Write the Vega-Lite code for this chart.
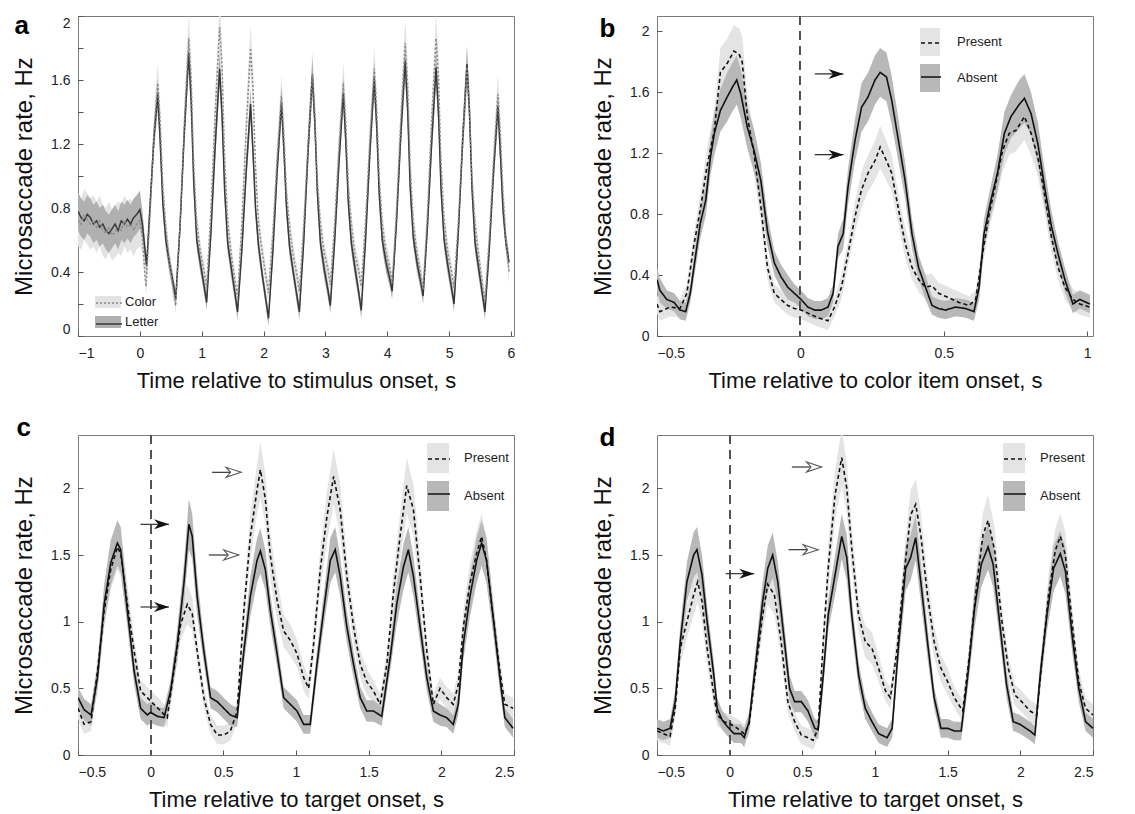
{
"$schema":"https://vega.github.io/schema/vega-lite/v6.json",
"padding":{"left":12,"top":12,"right":4,"bottom":0},
"columns":2,
"spacing":{"row":22,"column":75},
"resolve":{"scale":{"fill":"independent","stroke":"independent","strokeDash":"independent"}},
"datasets":{
"A":[
{"s":"Letter","t":-1,"y":0.78,"l":0.66,"h":0.9},{"s":"Letter","t":-0.95,"y":0.74,"l":0.62,"h":0.86},{"s":"Letter","t":-0.9,"y":0.72,"l":0.6,"h":0.84},{"s":"Letter","t":-0.85,"y":0.76,"l":0.64,"h":0.88},{"s":"Letter","t":-0.8,"y":0.74,"l":0.62,"h":0.86},{"s":"Letter","t":-0.75,"y":0.7,"l":0.58,"h":0.82},{"s":"Letter","t":-0.7,"y":0.72,"l":0.6,"h":0.84},{"s":"Letter","t":-0.65,"y":0.68,"l":0.56,"h":0.8},{"s":"Letter","t":-0.6,"y":0.7,"l":0.58,"h":0.82},{"s":"Letter","t":-0.55,"y":0.66,"l":0.54,"h":0.78},{"s":"Letter","t":-0.5,"y":0.64,"l":0.52,"h":0.76},{"s":"Letter","t":-0.45,"y":0.67,"l":0.55,"h":0.79},{"s":"Letter","t":-0.4,"y":0.7,"l":0.58,"h":0.82},{"s":"Letter","t":-0.35,"y":0.66,"l":0.54,"h":0.78},{"s":"Letter","t":-0.3,"y":0.72,"l":0.6,"h":0.84},{"s":"Letter","t":-0.25,"y":0.7,"l":0.58,"h":0.82},{"s":"Letter","t":-0.2,"y":0.73,"l":0.61,"h":0.85},{"s":"Letter","t":-0.15,"y":0.7,"l":0.58,"h":0.82},{"s":"Letter","t":-0.1,"y":0.74,"l":0.62,"h":0.86},{"s":"Letter","t":-0.05,"y":0.76,"l":0.64,"h":0.88},{"s":"Letter","t":0,"y":0.79,"l":0.67,"h":0.91},{"s":"Letter","t":0.04,"y":0.7,"l":0.61,"h":0.79},{"s":"Letter","t":0.08,"y":0.55,"l":0.48,"h":0.62},{"s":"Letter","t":0.11,"y":0.44,"l":0.38,"h":0.5},
{"s":"Letter","t":0.17,"y":0.85,"l":0.78,"h":0.92},{"s":"Letter","t":0.23,"y":1.25,"l":1.16,"h":1.34},{"s":"Letter","t":0.29,"y":1.51,"l":1.41,"h":1.61},{"s":"Letter","t":0.33,"y":1.21,"l":1.12,"h":1.3},{"s":"Letter","t":0.37,"y":0.84,"l":0.77,"h":0.91},{"s":"Letter","t":0.42,"y":0.6,"l":0.54,"h":0.66},{"s":"Letter","t":0.48,"y":0.45,"l":0.39,"h":0.51},{"s":"Letter","t":0.54,"y":0.33,"l":0.28,"h":0.38},{"s":"Letter","t":0.58,"y":0.23,"l":0.18,"h":0.28},
{"s":"Letter","t":0.65,"y":0.69,"l":0.62,"h":0.76},{"s":"Letter","t":0.72,"y":1.28,"l":1.19,"h":1.37},{"s":"Letter","t":0.79,"y":1.77,"l":1.66,"h":1.88},{"s":"Letter","t":0.83,"y":1.47,"l":1.37,"h":1.57},{"s":"Letter","t":0.87,"y":0.97,"l":0.89,"h":1.05},{"s":"Letter","t":0.92,"y":0.6,"l":0.54,"h":0.66},{"s":"Letter","t":0.98,"y":0.45,"l":0.39,"h":0.51},{"s":"Letter","t":1.04,"y":0.31,"l":0.26,"h":0.36},{"s":"Letter","t":1.08,"y":0.21,"l":0.16,"h":0.26},
{"s":"Letter","t":1.15,"y":0.65,"l":0.58,"h":0.72},{"s":"Letter","t":1.22,"y":1.2,"l":1.11,"h":1.29},{"s":"Letter","t":1.29,"y":1.67,"l":1.56,"h":1.78},{"s":"Letter","t":1.33,"y":1.37,"l":1.28,"h":1.46},{"s":"Letter","t":1.37,"y":0.92,"l":0.84,"h":1},{"s":"Letter","t":1.42,"y":0.58,"l":0.52,"h":0.64},{"s":"Letter","t":1.48,"y":0.42,"l":0.36,"h":0.48},{"s":"Letter","t":1.54,"y":0.26,"l":0.21,"h":0.31},{"s":"Letter","t":1.58,"y":0.15,"l":0.1,"h":0.2},
{"s":"Letter","t":1.65,"y":0.54,"l":0.48,"h":0.6},{"s":"Letter","t":1.72,"y":1.03,"l":0.95,"h":1.11},{"s":"Letter","t":1.79,"y":1.45,"l":1.35,"h":1.55},{"s":"Letter","t":1.83,"y":1.15,"l":1.06,"h":1.24},{"s":"Letter","t":1.87,"y":0.8,"l":0.73,"h":0.87},{"s":"Letter","t":1.92,"y":0.56,"l":0.5,"h":0.62},{"s":"Letter","t":1.98,"y":0.38,"l":0.33,"h":0.43},{"s":"Letter","t":2.04,"y":0.22,"l":0.17,"h":0.27},{"s":"Letter","t":2.08,"y":0.11,"l":0.06,"h":0.16},
{"s":"Letter","t":2.15,"y":0.52,"l":0.46,"h":0.58},{"s":"Letter","t":2.22,"y":1.03,"l":0.95,"h":1.11},{"s":"Letter","t":2.29,"y":1.46,"l":1.36,"h":1.56},{"s":"Letter","t":2.33,"y":1.16,"l":1.07,"h":1.25},{"s":"Letter","t":2.37,"y":0.81,"l":0.74,"h":0.88},{"s":"Letter","t":2.42,"y":0.56,"l":0.5,"h":0.62},{"s":"Letter","t":2.48,"y":0.4,"l":0.35,"h":0.45},{"s":"Letter","t":2.54,"y":0.25,"l":0.2,"h":0.3},{"s":"Letter","t":2.58,"y":0.15,"l":0.1,"h":0.2},
{"s":"Letter","t":2.65,"y":0.59,"l":0.53,"h":0.65},{"s":"Letter","t":2.72,"y":1.16,"l":1.07,"h":1.25},{"s":"Letter","t":2.79,"y":1.63,"l":1.52,"h":1.74},{"s":"Letter","t":2.83,"y":1.33,"l":1.24,"h":1.42},{"s":"Letter","t":2.87,"y":0.9,"l":0.82,"h":0.98},{"s":"Letter","t":2.92,"y":0.58,"l":0.52,"h":0.64},{"s":"Letter","t":2.98,"y":0.42,"l":0.36,"h":0.48},{"s":"Letter","t":3.04,"y":0.29,"l":0.24,"h":0.34},{"s":"Letter","t":3.08,"y":0.19,"l":0.14,"h":0.24},
{"s":"Letter","t":3.15,"y":0.59,"l":0.53,"h":0.65},{"s":"Letter","t":3.22,"y":1.09,"l":1,"h":1.18},{"s":"Letter","t":3.29,"y":1.52,"l":1.42,"h":1.62},{"s":"Letter","t":3.33,"y":1.22,"l":1.13,"h":1.31},{"s":"Letter","t":3.37,"y":0.84,"l":0.77,"h":0.91},{"s":"Letter","t":3.42,"y":0.58,"l":0.52,"h":0.64},{"s":"Letter","t":3.48,"y":0.42,"l":0.36,"h":0.48},{"s":"Letter","t":3.54,"y":0.27,"l":0.22,"h":0.32},{"s":"Letter","t":3.58,"y":0.16,"l":0.11,"h":0.21},
{"s":"Letter","t":3.65,"y":0.6,"l":0.54,"h":0.66},{"s":"Letter","t":3.72,"y":1.15,"l":1.06,"h":1.24},{"s":"Letter","t":3.79,"y":1.61,"l":1.5,"h":1.72},{"s":"Letter","t":3.83,"y":1.31,"l":1.22,"h":1.4},{"s":"Letter","t":3.87,"y":0.89,"l":0.81,"h":0.97},{"s":"Letter","t":3.92,"y":0.6,"l":0.54,"h":0.66},{"s":"Letter","t":3.98,"y":0.46,"l":0.4,"h":0.52},{"s":"Letter","t":4.04,"y":0.36,"l":0.31,"h":0.41},{"s":"Letter","t":4.08,"y":0.28,"l":0.23,"h":0.33},
{"s":"Letter","t":4.15,"y":0.71,"l":0.64,"h":0.78},{"s":"Letter","t":4.22,"y":1.26,"l":1.17,"h":1.35},{"s":"Letter","t":4.29,"y":1.72,"l":1.61,"h":1.83},{"s":"Letter","t":4.33,"y":1.42,"l":1.32,"h":1.52},{"s":"Letter","t":4.37,"y":0.94,"l":0.86,"h":1.02},{"s":"Letter","t":4.42,"y":0.62,"l":0.56,"h":0.68},{"s":"Letter","t":4.48,"y":0.46,"l":0.4,"h":0.52},{"s":"Letter","t":4.54,"y":0.34,"l":0.29,"h":0.39},{"s":"Letter","t":4.58,"y":0.25,"l":0.2,"h":0.3},
{"s":"Letter","t":4.65,"y":0.68,"l":0.61,"h":0.75},{"s":"Letter","t":4.72,"y":1.22,"l":1.13,"h":1.31},{"s":"Letter","t":4.79,"y":1.68,"l":1.57,"h":1.79},{"s":"Letter","t":4.83,"y":1.38,"l":1.29,"h":1.47},{"s":"Letter","t":4.87,"y":0.92,"l":0.84,"h":1},{"s":"Letter","t":4.92,"y":0.6,"l":0.54,"h":0.66},{"s":"Letter","t":4.98,"y":0.44,"l":0.38,"h":0.5},{"s":"Letter","t":5.04,"y":0.3,"l":0.25,"h":0.35},{"s":"Letter","t":5.08,"y":0.2,"l":0.15,"h":0.25},
{"s":"Letter","t":5.15,"y":0.65,"l":0.58,"h":0.72},{"s":"Letter","t":5.22,"y":1.22,"l":1.13,"h":1.31},{"s":"Letter","t":5.29,"y":1.7,"l":1.59,"h":1.81},{"s":"Letter","t":5.33,"y":1.4,"l":1.31,"h":1.49},{"s":"Letter","t":5.37,"y":0.93,"l":0.85,"h":1.01},{"s":"Letter","t":5.42,"y":0.58,"l":0.52,"h":0.64},{"s":"Letter","t":5.48,"y":0.42,"l":0.36,"h":0.48},{"s":"Letter","t":5.54,"y":0.26,"l":0.21,"h":0.31},{"s":"Letter","t":5.58,"y":0.15,"l":0.1,"h":0.2},
{"s":"Letter","t":5.65,"y":0.54,"l":0.48,"h":0.6},{"s":"Letter","t":5.72,"y":1.03,"l":0.95,"h":1.11},{"s":"Letter","t":5.79,"y":1.44,"l":1.34,"h":1.54},{"s":"Letter","t":5.83,"y":1.14,"l":1.05,"h":1.23},{"s":"Letter","t":5.87,"y":0.8,"l":0.73,"h":0.87},{"s":"Letter","t":5.92,"y":0.58,"l":0.52,"h":0.64},{"s":"Letter","t":5.97,"y":0.46,"l":0.4,"h":0.52},
{"s":"Color","t":-1,"y":0.72,"l":0.56,"h":0.88},{"s":"Color","t":-0.95,"y":0.7,"l":0.54,"h":0.86},{"s":"Color","t":-0.9,"y":0.76,"l":0.6,"h":0.92},{"s":"Color","t":-0.85,"y":0.73,"l":0.57,"h":0.89},{"s":"Color","t":-0.8,"y":0.7,"l":0.54,"h":0.86},{"s":"Color","t":-0.75,"y":0.72,"l":0.56,"h":0.88},{"s":"Color","t":-0.7,"y":0.68,"l":0.52,"h":0.84},{"s":"Color","t":-0.65,"y":0.72,"l":0.56,"h":0.88},{"s":"Color","t":-0.6,"y":0.66,"l":0.5,"h":0.82},{"s":"Color","t":-0.55,"y":0.64,"l":0.48,"h":0.8},{"s":"Color","t":-0.5,"y":0.68,"l":0.52,"h":0.84},{"s":"Color","t":-0.45,"y":0.63,"l":0.47,"h":0.79},{"s":"Color","t":-0.4,"y":0.65,"l":0.49,"h":0.81},{"s":"Color","t":-0.35,"y":0.68,"l":0.52,"h":0.84},{"s":"Color","t":-0.3,"y":0.66,"l":0.5,"h":0.82},{"s":"Color","t":-0.25,"y":0.72,"l":0.56,"h":0.88},{"s":"Color","t":-0.2,"y":0.68,"l":0.52,"h":0.84},{"s":"Color","t":-0.15,"y":0.7,"l":0.54,"h":0.86},{"s":"Color","t":-0.1,"y":0.66,"l":0.5,"h":0.82},{"s":"Color","t":-0.05,"y":0.7,"l":0.54,"h":0.86},{"s":"Color","t":0,"y":0.72,"l":0.56,"h":0.88},{"s":"Color","t":0.04,"y":0.62,"l":0.52,"h":0.72},{"s":"Color","t":0.08,"y":0.4,"l":0.33,"h":0.47},{"s":"Color","t":0.1,"y":0.31,"l":0.25,"h":0.37},
{"s":"Color","t":0.17,"y":0.8,"l":0.71,"h":0.89},{"s":"Color","t":0.23,"y":1.28,"l":1.16,"h":1.4},{"s":"Color","t":0.29,"y":1.58,"l":1.45,"h":1.71},{"s":"Color","t":0.33,"y":1.33,"l":1.21,"h":1.45},{"s":"Color","t":0.37,"y":0.94,"l":0.84,"h":1.04},{"s":"Color","t":0.42,"y":0.68,"l":0.6,"h":0.76},{"s":"Color","t":0.48,"y":0.46,"l":0.39,"h":0.53},{"s":"Color","t":0.54,"y":0.29,"l":0.23,"h":0.35},{"s":"Color","t":0.58,"y":0.19,"l":0.14,"h":0.24},
{"s":"Color","t":0.65,"y":0.69,"l":0.61,"h":0.77},{"s":"Color","t":0.72,"y":1.33,"l":1.21,"h":1.45},{"s":"Color","t":0.79,"y":1.86,"l":1.71,"h":2.01},{"s":"Color","t":0.83,"y":1.61,"l":1.47,"h":1.75},{"s":"Color","t":0.87,"y":1.08,"l":0.98,"h":1.18},{"s":"Color","t":0.92,"y":0.7,"l":0.62,"h":0.78},{"s":"Color","t":0.98,"y":0.52,"l":0.45,"h":0.59},{"s":"Color","t":1.04,"y":0.4,"l":0.34,"h":0.46},{"s":"Color","t":1.08,"y":0.3,"l":0.24,"h":0.36},
{"s":"Color","t":1.15,"y":0.79,"l":0.7,"h":0.88},{"s":"Color","t":1.22,"y":1.41,"l":1.29,"h":1.53},{"s":"Color","t":1.29,"y":1.93,"l":1.77,"h":2.09},{"s":"Color","t":1.33,"y":1.68,"l":1.54,"h":1.82},{"s":"Color","t":1.37,"y":1.12,"l":1.01,"h":1.23},{"s":"Color","t":1.42,"y":0.72,"l":0.64,"h":0.8},{"s":"Color","t":1.48,"y":0.5,"l":0.43,"h":0.57},{"s":"Color","t":1.54,"y":0.34,"l":0.28,"h":0.4},{"s":"Color","t":1.58,"y":0.24,"l":0.19,"h":0.29},
{"s":"Color","t":1.65,"y":0.71,"l":0.63,"h":0.79},{"s":"Color","t":1.72,"y":1.3,"l":1.18,"h":1.42},{"s":"Color","t":1.79,"y":1.8,"l":1.65,"h":1.95},{"s":"Color","t":1.83,"y":1.55,"l":1.42,"h":1.68},{"s":"Color","t":1.87,"y":1.05,"l":0.95,"h":1.15},{"s":"Color","t":1.92,"y":0.7,"l":0.62,"h":0.78},{"s":"Color","t":1.98,"y":0.52,"l":0.45,"h":0.59},{"s":"Color","t":2.04,"y":0.37,"l":0.31,"h":0.43},{"s":"Color","t":2.08,"y":0.27,"l":0.21,"h":0.33},
{"s":"Color","t":2.15,"y":0.64,"l":0.56,"h":0.72},{"s":"Color","t":2.22,"y":1.11,"l":1,"h":1.22},{"s":"Color","t":2.29,"y":1.5,"l":1.37,"h":1.63},{"s":"Color","t":2.33,"y":1.25,"l":1.13,"h":1.37},{"s":"Color","t":2.37,"y":0.9,"l":0.81,"h":0.99},{"s":"Color","t":2.42,"y":0.68,"l":0.6,"h":0.76},{"s":"Color","t":2.48,"y":0.5,"l":0.43,"h":0.57},{"s":"Color","t":2.54,"y":0.38,"l":0.32,"h":0.44},{"s":"Color","t":2.58,"y":0.28,"l":0.22,"h":0.34},
{"s":"Color","t":2.65,"y":0.69,"l":0.61,"h":0.77},{"s":"Color","t":2.72,"y":1.2,"l":1.09,"h":1.31},{"s":"Color","t":2.79,"y":1.64,"l":1.5,"h":1.78},{"s":"Color","t":2.83,"y":1.39,"l":1.27,"h":1.51},{"s":"Color","t":2.87,"y":0.97,"l":0.87,"h":1.07},{"s":"Color","t":2.92,"y":0.7,"l":0.62,"h":0.78},{"s":"Color","t":2.98,"y":0.52,"l":0.45,"h":0.59},{"s":"Color","t":3.04,"y":0.42,"l":0.36,"h":0.48},{"s":"Color","t":3.08,"y":0.32,"l":0.26,"h":0.38},
{"s":"Color","t":3.15,"y":0.7,"l":0.62,"h":0.78},{"s":"Color","t":3.22,"y":1.18,"l":1.07,"h":1.29},{"s":"Color","t":3.29,"y":1.58,"l":1.45,"h":1.71},{"s":"Color","t":3.33,"y":1.33,"l":1.21,"h":1.45},{"s":"Color","t":3.37,"y":0.94,"l":0.84,"h":1.04},{"s":"Color","t":3.42,"y":0.7,"l":0.62,"h":0.78},{"s":"Color","t":3.48,"y":0.5,"l":0.43,"h":0.57},{"s":"Color","t":3.54,"y":0.41,"l":0.35,"h":0.47},{"s":"Color","t":3.58,"y":0.31,"l":0.25,"h":0.37},
{"s":"Color","t":3.65,"y":0.72,"l":0.64,"h":0.8},{"s":"Color","t":3.72,"y":1.23,"l":1.12,"h":1.34},{"s":"Color","t":3.79,"y":1.67,"l":1.53,"h":1.81},{"s":"Color","t":3.83,"y":1.42,"l":1.3,"h":1.54},{"s":"Color","t":3.87,"y":0.99,"l":0.89,"h":1.09},{"s":"Color","t":3.92,"y":0.7,"l":0.62,"h":0.78},{"s":"Color","t":3.98,"y":0.52,"l":0.45,"h":0.59},{"s":"Color","t":4.04,"y":0.43,"l":0.37,"h":0.49},{"s":"Color","t":4.08,"y":0.33,"l":0.27,"h":0.39},
{"s":"Color","t":4.15,"y":0.78,"l":0.69,"h":0.87},{"s":"Color","t":4.22,"y":1.35,"l":1.23,"h":1.47},{"s":"Color","t":4.29,"y":1.83,"l":1.68,"h":1.98},{"s":"Color","t":4.33,"y":1.58,"l":1.44,"h":1.72},{"s":"Color","t":4.37,"y":1.07,"l":0.97,"h":1.17},{"s":"Color","t":4.42,"y":0.72,"l":0.64,"h":0.8},{"s":"Color","t":4.48,"y":0.52,"l":0.45,"h":0.59},{"s":"Color","t":4.54,"y":0.39,"l":0.33,"h":0.45},{"s":"Color","t":4.58,"y":0.29,"l":0.23,"h":0.35},
{"s":"Color","t":4.65,"y":0.76,"l":0.68,"h":0.84},{"s":"Color","t":4.72,"y":1.36,"l":1.24,"h":1.48},{"s":"Color","t":4.79,"y":1.86,"l":1.71,"h":2.01},{"s":"Color","t":4.83,"y":1.61,"l":1.47,"h":1.75},{"s":"Color","t":4.87,"y":1.08,"l":0.98,"h":1.18},{"s":"Color","t":4.92,"y":0.72,"l":0.64,"h":0.8},{"s":"Color","t":4.98,"y":0.52,"l":0.45,"h":0.59},{"s":"Color","t":5.04,"y":0.4,"l":0.34,"h":0.46},{"s":"Color","t":5.08,"y":0.3,"l":0.24,"h":0.36},
{"s":"Color","t":5.15,"y":0.71,"l":0.63,"h":0.79},{"s":"Color","t":5.22,"y":1.24,"l":1.12,"h":1.36},{"s":"Color","t":5.29,"y":1.68,"l":1.54,"h":1.82},{"s":"Color","t":5.33,"y":1.43,"l":1.31,"h":1.55},{"s":"Color","t":5.37,"y":0.99,"l":0.89,"h":1.09},{"s":"Color","t":5.42,"y":0.7,"l":0.62,"h":0.78},{"s":"Color","t":5.48,"y":0.5,"l":0.43,"h":0.57},{"s":"Color","t":5.54,"y":0.32,"l":0.26,"h":0.38},{"s":"Color","t":5.58,"y":0.22,"l":0.17,"h":0.27},
{"s":"Color","t":5.65,"y":0.61,"l":0.53,"h":0.69},{"s":"Color","t":5.72,"y":1.1,"l":0.99,"h":1.21},{"s":"Color","t":5.79,"y":1.51,"l":1.38,"h":1.64},{"s":"Color","t":5.83,"y":1.26,"l":1.14,"h":1.38},{"s":"Color","t":5.87,"y":0.91,"l":0.82,"h":1},{"s":"Color","t":5.92,"y":0.6,"l":0.52,"h":0.68},{"s":"Color","t":5.97,"y":0.4,"l":0.33,"h":0.47}
],
"B":[
{"s":"Absent","t":-0.5,"y":0.37,"l":0.29,"h":0.45},{"s":"Absent","t":-0.49,"y":0.3,"l":0.22,"h":0.38},{"s":"Absent","t":-0.466,"y":0.24,"l":0.18,"h":0.3},{"s":"Absent","t":-0.44,"y":0.22,"l":0.16,"h":0.28},{"s":"Absent","t":-0.42,"y":0.17,"l":0.11,"h":0.23},{"s":"Absent","t":-0.4,"y":0.16,"l":0.1,"h":0.22},{"s":"Absent","t":-0.384,"y":0.28,"l":0.22,"h":0.34},{"s":"Absent","t":-0.366,"y":0.52,"l":0.44,"h":0.6},{"s":"Absent","t":-0.349,"y":0.74,"l":0.64,"h":0.84},{"s":"Absent","t":-0.33,"y":0.89,"l":0.79,"h":0.99},{"s":"Absent","t":-0.314,"y":1.17,"l":1.05,"h":1.29},{"s":"Absent","t":-0.3,"y":1.33,"l":1.19,"h":1.47},{"s":"Absent","t":-0.279,"y":1.48,"l":1.34,"h":1.62},{"s":"Absent","t":-0.255,"y":1.57,"l":1.41,"h":1.73},{"s":"Absent","t":-0.238,"y":1.63,"l":1.47,"h":1.79},{"s":"Absent","t":-0.222,"y":1.68,"l":1.52,"h":1.84},{"s":"Absent","t":-0.208,"y":1.59,"l":1.43,"h":1.75},{"s":"Absent","t":-0.185,"y":1.37,"l":1.23,"h":1.51},{"s":"Absent","t":-0.162,"y":1.22,"l":1.08,"h":1.36},{"s":"Absent","t":-0.138,"y":1.02,"l":0.9,"h":1.14},{"s":"Absent","t":-0.115,"y":0.69,"l":0.59,"h":0.79},{"s":"Absent","t":-0.091,"y":0.48,"l":0.4,"h":0.56},{"s":"Absent","t":-0.068,"y":0.39,"l":0.31,"h":0.47},{"s":"Absent","t":-0.044,"y":0.32,"l":0.24,"h":0.4},{"s":"Absent","t":-0.021,"y":0.28,"l":0.22,"h":0.34},{"s":"Absent","t":0.002,"y":0.24,"l":0.18,"h":0.3},{"s":"Absent","t":0.026,"y":0.19,"l":0.13,"h":0.25},{"s":"Absent","t":0.05,"y":0.17,"l":0.11,"h":0.23},{"s":"Absent","t":0.073,"y":0.17,"l":0.11,"h":0.23},{"s":"Absent","t":0.096,"y":0.19,"l":0.13,"h":0.25},{"s":"Absent","t":0.114,"y":0.28,"l":0.22,"h":0.34},{"s":"Absent","t":0.131,"y":0.59,"l":0.51,"h":0.67},{"s":"Absent","t":0.149,"y":0.67,"l":0.57,"h":0.77},{"s":"Absent","t":0.166,"y":0.98,"l":0.86,"h":1.1},{"s":"Absent","t":0.19,"y":1.28,"l":1.14,"h":1.42},{"s":"Absent","t":0.213,"y":1.5,"l":1.34,"h":1.66},{"s":"Absent","t":0.236,"y":1.57,"l":1.41,"h":1.73},{"s":"Absent","t":0.26,"y":1.68,"l":1.52,"h":1.84},{"s":"Absent","t":0.278,"y":1.73,"l":1.57,"h":1.89},{"s":"Absent","t":0.3,"y":1.7,"l":1.54,"h":1.86},{"s":"Absent","t":0.318,"y":1.55,"l":1.39,"h":1.71},{"s":"Absent","t":0.342,"y":1.28,"l":1.14,"h":1.42},{"s":"Absent","t":0.365,"y":1.02,"l":0.9,"h":1.14},{"s":"Absent","t":0.389,"y":0.67,"l":0.57,"h":0.77},{"s":"Absent","t":0.412,"y":0.45,"l":0.37,"h":0.53},{"s":"Absent","t":0.436,"y":0.32,"l":0.24,"h":0.4},{"s":"Absent","t":0.459,"y":0.2,"l":0.14,"h":0.26},{"s":"Absent","t":0.482,"y":0.18,"l":0.12,"h":0.24},{"s":"Absent","t":0.506,"y":0.17,"l":0.11,"h":0.23},{"s":"Absent","t":0.541,"y":0.19,"l":0.13,"h":0.25},{"s":"Absent","t":0.576,"y":0.18,"l":0.12,"h":0.24},{"s":"Absent","t":0.605,"y":0.16,"l":0.1,"h":0.22},{"s":"Absent","t":0.623,"y":0.32,"l":0.24,"h":0.4},{"s":"Absent","t":0.64,"y":0.67,"l":0.57,"h":0.77},{"s":"Absent","t":0.664,"y":0.89,"l":0.79,"h":0.99},{"s":"Absent","t":0.687,"y":1.07,"l":0.95,"h":1.19},{"s":"Absent","t":0.711,"y":1.33,"l":1.19,"h":1.47},{"s":"Absent","t":0.734,"y":1.44,"l":1.3,"h":1.58},{"s":"Absent","t":0.763,"y":1.52,"l":1.36,"h":1.68},{"s":"Absent","t":0.781,"y":1.56,"l":1.4,"h":1.72},{"s":"Absent","t":0.804,"y":1.46,"l":1.32,"h":1.6},{"s":"Absent","t":0.828,"y":1.26,"l":1.12,"h":1.4},{"s":"Absent","t":0.851,"y":0.98,"l":0.86,"h":1.1},{"s":"Absent","t":0.875,"y":0.72,"l":0.62,"h":0.82},{"s":"Absent","t":0.898,"y":0.54,"l":0.46,"h":0.62},{"s":"Absent","t":0.922,"y":0.37,"l":0.29,"h":0.45},{"s":"Absent","t":0.95,"y":0.21,"l":0.15,"h":0.27},{"s":"Absent","t":0.974,"y":0.24,"l":0.18,"h":0.3},{"s":"Absent","t":1.009,"y":0.21,"l":0.15,"h":0.27},
{"s":"Present","t":-0.5,"y":0.21,"l":0.15,"h":0.27},{"s":"Present","t":-0.49,"y":0.16,"l":0.1,"h":0.22},{"s":"Present","t":-0.454,"y":0.19,"l":0.13,"h":0.25},{"s":"Present","t":-0.42,"y":0.18,"l":0.12,"h":0.24},{"s":"Present","t":-0.396,"y":0.28,"l":0.22,"h":0.34},{"s":"Present","t":-0.372,"y":0.59,"l":0.51,"h":0.67},{"s":"Present","t":-0.349,"y":0.83,"l":0.73,"h":0.93},{"s":"Present","t":-0.326,"y":1.11,"l":0.99,"h":1.23},{"s":"Present","t":-0.3,"y":1.35,"l":1.21,"h":1.49},{"s":"Present","t":-0.279,"y":1.73,"l":1.57,"h":1.89},{"s":"Present","t":-0.255,"y":1.79,"l":1.63,"h":1.95},{"s":"Present","t":-0.232,"y":1.87,"l":1.7,"h":2.04},{"s":"Present","t":-0.214,"y":1.85,"l":1.68,"h":2.02},{"s":"Present","t":-0.203,"y":1.8,"l":1.63,"h":1.97},{"s":"Present","t":-0.185,"y":1.44,"l":1.3,"h":1.58},{"s":"Present","t":-0.162,"y":1.2,"l":1.06,"h":1.34},{"s":"Present","t":-0.138,"y":0.85,"l":0.75,"h":0.95},{"s":"Present","t":-0.115,"y":0.45,"l":0.37,"h":0.53},{"s":"Present","t":-0.091,"y":0.28,"l":0.22,"h":0.34},{"s":"Present","t":-0.068,"y":0.24,"l":0.18,"h":0.3},{"s":"Present","t":-0.044,"y":0.2,"l":0.14,"h":0.26},{"s":"Present","t":-0.021,"y":0.18,"l":0.12,"h":0.24},{"s":"Present","t":0.002,"y":0.17,"l":0.11,"h":0.23},{"s":"Present","t":0.026,"y":0.15,"l":0.09,"h":0.21},{"s":"Present","t":0.061,"y":0.12,"l":0.06,"h":0.18},{"s":"Present","t":0.096,"y":0.1,"l":0.04,"h":0.16},{"s":"Present","t":0.119,"y":0.19,"l":0.13,"h":0.25},{"s":"Present","t":0.143,"y":0.32,"l":0.24,"h":0.4},{"s":"Present","t":0.166,"y":0.54,"l":0.46,"h":0.62},{"s":"Present","t":0.19,"y":0.78,"l":0.68,"h":0.88},{"s":"Present","t":0.213,"y":0.96,"l":0.84,"h":1.08},{"s":"Present","t":0.236,"y":1.07,"l":0.95,"h":1.19},{"s":"Present","t":0.26,"y":1.15,"l":1.02,"h":1.28},{"s":"Present","t":0.278,"y":1.24,"l":1.1,"h":1.38},{"s":"Present","t":0.3,"y":1.15,"l":1.02,"h":1.28},{"s":"Present","t":0.318,"y":1.07,"l":0.95,"h":1.19},{"s":"Present","t":0.342,"y":0.83,"l":0.73,"h":0.93},{"s":"Present","t":0.365,"y":0.61,"l":0.51,"h":0.71},{"s":"Present","t":0.389,"y":0.45,"l":0.37,"h":0.53},{"s":"Present","t":0.412,"y":0.37,"l":0.29,"h":0.45},{"s":"Present","t":0.436,"y":0.32,"l":0.24,"h":0.4},{"s":"Present","t":0.459,"y":0.33,"l":0.25,"h":0.41},{"s":"Present","t":0.482,"y":0.28,"l":0.21,"h":0.35},{"s":"Present","t":0.518,"y":0.25,"l":0.18,"h":0.32},{"s":"Present","t":0.553,"y":0.22,"l":0.15,"h":0.29},{"s":"Present","t":0.588,"y":0.2,"l":0.14,"h":0.26},{"s":"Present","t":0.611,"y":0.24,"l":0.18,"h":0.3},{"s":"Present","t":0.635,"y":0.54,"l":0.46,"h":0.62},{"s":"Present","t":0.658,"y":0.8,"l":0.7,"h":0.9},{"s":"Present","t":0.681,"y":1,"l":0.88,"h":1.12},{"s":"Present","t":0.705,"y":1.22,"l":1.08,"h":1.36},{"s":"Present","t":0.728,"y":1.33,"l":1.19,"h":1.47},{"s":"Present","t":0.752,"y":1.35,"l":1.21,"h":1.49},{"s":"Present","t":0.781,"y":1.44,"l":1.29,"h":1.59},{"s":"Present","t":0.804,"y":1.33,"l":1.19,"h":1.47},{"s":"Present","t":0.828,"y":1.17,"l":1.05,"h":1.29},{"s":"Present","t":0.851,"y":0.93,"l":0.81,"h":1.05},{"s":"Present","t":0.875,"y":0.65,"l":0.55,"h":0.75},{"s":"Present","t":0.898,"y":0.45,"l":0.37,"h":0.53},{"s":"Present","t":0.922,"y":0.32,"l":0.24,"h":0.4},{"s":"Present","t":0.95,"y":0.24,"l":0.17,"h":0.31},{"s":"Present","t":0.974,"y":0.21,"l":0.14,"h":0.28},{"s":"Present","t":1.009,"y":0.19,"l":0.12,"h":0.26}
],
"C":[
{"s":"Absent","t":-0.5,"y":0.43,"l":0.35,"h":0.51},{"s":"Absent","t":-0.458,"y":0.34,"l":0.26,"h":0.42},{"s":"Absent","t":-0.41,"y":0.3,"l":0.22,"h":0.38},{"s":"Absent","t":-0.366,"y":0.58,"l":0.48,"h":0.68},{"s":"Absent","t":-0.32,"y":1.13,"l":0.98,"h":1.28},{"s":"Absent","t":-0.275,"y":1.44,"l":1.27,"h":1.61},{"s":"Absent","t":-0.229,"y":1.59,"l":1.42,"h":1.76},{"s":"Absent","t":-0.206,"y":1.54,"l":1.37,"h":1.71},{"s":"Absent","t":-0.16,"y":1.08,"l":0.96,"h":1.2},{"s":"Absent","t":-0.114,"y":0.63,"l":0.53,"h":0.73},{"s":"Absent","t":-0.069,"y":0.35,"l":0.27,"h":0.43},{"s":"Absent","t":-0.023,"y":0.3,"l":0.22,"h":0.38},{"s":"Absent","t":0,"y":0.32,"l":0.24,"h":0.4},{"s":"Absent","t":0.046,"y":0.29,"l":0.22,"h":0.36},{"s":"Absent","t":0.092,"y":0.28,"l":0.21,"h":0.35},{"s":"Absent","t":0.137,"y":0.48,"l":0.4,"h":0.56},{"s":"Absent","t":0.183,"y":0.83,"l":0.71,"h":0.95},{"s":"Absent","t":0.229,"y":1.29,"l":1.14,"h":1.44},{"s":"Absent","t":0.263,"y":1.73,"l":1.54,"h":1.92},{"s":"Absent","t":0.286,"y":1.64,"l":1.47,"h":1.81},{"s":"Absent","t":0.32,"y":1.19,"l":1.04,"h":1.34},{"s":"Absent","t":0.366,"y":0.78,"l":0.68,"h":0.88},{"s":"Absent","t":0.412,"y":0.43,"l":0.35,"h":0.51},{"s":"Absent","t":0.458,"y":0.4,"l":0.32,"h":0.48},{"s":"Absent","t":0.503,"y":0.35,"l":0.27,"h":0.43},{"s":"Absent","t":0.549,"y":0.3,"l":0.22,"h":0.38},{"s":"Absent","t":0.595,"y":0.28,"l":0.21,"h":0.35},{"s":"Absent","t":0.641,"y":0.78,"l":0.68,"h":0.88},{"s":"Absent","t":0.686,"y":1.19,"l":1.04,"h":1.34},{"s":"Absent","t":0.732,"y":1.46,"l":1.29,"h":1.63},{"s":"Absent","t":0.755,"y":1.53,"l":1.36,"h":1.7},{"s":"Absent","t":0.789,"y":1.39,"l":1.24,"h":1.54},{"s":"Absent","t":0.824,"y":1.08,"l":0.96,"h":1.2},{"s":"Absent","t":0.87,"y":0.76,"l":0.66,"h":0.86},{"s":"Absent","t":0.915,"y":0.43,"l":0.35,"h":0.51},{"s":"Absent","t":0.961,"y":0.38,"l":0.3,"h":0.46},{"s":"Absent","t":1.007,"y":0.33,"l":0.25,"h":0.41},{"s":"Absent","t":1.053,"y":0.23,"l":0.16,"h":0.3},{"s":"Absent","t":1.098,"y":0.23,"l":0.16,"h":0.3},{"s":"Absent","t":1.144,"y":0.68,"l":0.58,"h":0.78},{"s":"Absent","t":1.19,"y":1.08,"l":0.96,"h":1.2},{"s":"Absent","t":1.236,"y":1.46,"l":1.29,"h":1.63},{"s":"Absent","t":1.27,"y":1.54,"l":1.37,"h":1.71},{"s":"Absent","t":1.304,"y":1.34,"l":1.19,"h":1.49},{"s":"Absent","t":1.35,"y":0.96,"l":0.84,"h":1.08},{"s":"Absent","t":1.396,"y":0.68,"l":0.58,"h":0.78},{"s":"Absent","t":1.442,"y":0.43,"l":0.35,"h":0.51},{"s":"Absent","t":1.487,"y":0.33,"l":0.25,"h":0.41},{"s":"Absent","t":1.533,"y":0.33,"l":0.25,"h":0.41},{"s":"Absent","t":1.59,"y":0.29,"l":0.22,"h":0.36},{"s":"Absent","t":1.648,"y":0.73,"l":0.63,"h":0.83},{"s":"Absent","t":1.693,"y":1.13,"l":0.98,"h":1.28},{"s":"Absent","t":1.739,"y":1.41,"l":1.24,"h":1.58},{"s":"Absent","t":1.773,"y":1.54,"l":1.37,"h":1.71},{"s":"Absent","t":1.808,"y":1.34,"l":1.19,"h":1.49},{"s":"Absent","t":1.854,"y":0.96,"l":0.84,"h":1.08},{"s":"Absent","t":1.9,"y":0.58,"l":0.48,"h":0.68},{"s":"Absent","t":1.945,"y":0.33,"l":0.25,"h":0.41},{"s":"Absent","t":1.991,"y":0.3,"l":0.22,"h":0.38},{"s":"Absent","t":2.037,"y":0.28,"l":0.21,"h":0.35},{"s":"Absent","t":2.082,"y":0.23,"l":0.16,"h":0.3},{"s":"Absent","t":2.117,"y":0.38,"l":0.3,"h":0.46},{"s":"Absent","t":2.151,"y":0.83,"l":0.71,"h":0.95},{"s":"Absent","t":2.197,"y":1.19,"l":1.04,"h":1.34},{"s":"Absent","t":2.243,"y":1.46,"l":1.29,"h":1.63},{"s":"Absent","t":2.277,"y":1.59,"l":1.42,"h":1.76},{"s":"Absent","t":2.311,"y":1.46,"l":1.29,"h":1.63},{"s":"Absent","t":2.357,"y":1.03,"l":0.91,"h":1.15},{"s":"Absent","t":2.403,"y":0.58,"l":0.48,"h":0.68},{"s":"Absent","t":2.437,"y":0.28,"l":0.21,"h":0.35},{"s":"Absent","t":2.494,"y":0.2,"l":0.13,"h":0.27},
{"s":"Present","t":-0.5,"y":0.35,"l":0.27,"h":0.43},{"s":"Present","t":-0.458,"y":0.23,"l":0.16,"h":0.3},{"s":"Present","t":-0.41,"y":0.25,"l":0.18,"h":0.32},{"s":"Present","t":-0.366,"y":0.63,"l":0.53,"h":0.73},{"s":"Present","t":-0.32,"y":1.08,"l":0.96,"h":1.2},{"s":"Present","t":-0.275,"y":1.39,"l":1.24,"h":1.54},{"s":"Present","t":-0.229,"y":1.56,"l":1.39,"h":1.73},{"s":"Present","t":-0.206,"y":1.51,"l":1.34,"h":1.68},{"s":"Present","t":-0.16,"y":1.13,"l":0.98,"h":1.28},{"s":"Present","t":-0.114,"y":0.78,"l":0.68,"h":0.88},{"s":"Present","t":-0.069,"y":0.48,"l":0.4,"h":0.56},{"s":"Present","t":-0.023,"y":0.43,"l":0.35,"h":0.51},{"s":"Present","t":0.023,"y":0.38,"l":0.3,"h":0.46},{"s":"Present","t":0.069,"y":0.33,"l":0.25,"h":0.41},{"s":"Present","t":0.114,"y":0.28,"l":0.21,"h":0.35},{"s":"Present","t":0.16,"y":0.63,"l":0.53,"h":0.73},{"s":"Present","t":0.206,"y":0.98,"l":0.86,"h":1.1},{"s":"Present","t":0.252,"y":1.13,"l":0.98,"h":1.28},{"s":"Present","t":0.286,"y":1.06,"l":0.94,"h":1.18},{"s":"Present","t":0.32,"y":0.78,"l":0.68,"h":0.88},{"s":"Present","t":0.366,"y":0.43,"l":0.35,"h":0.51},{"s":"Present","t":0.412,"y":0.23,"l":0.16,"h":0.3},{"s":"Present","t":0.458,"y":0.15,"l":0.08,"h":0.22},{"s":"Present","t":0.503,"y":0.15,"l":0.08,"h":0.22},{"s":"Present","t":0.549,"y":0.18,"l":0.11,"h":0.25},{"s":"Present","t":0.595,"y":0.33,"l":0.25,"h":0.41},{"s":"Present","t":0.641,"y":1.08,"l":0.96,"h":1.2},{"s":"Present","t":0.686,"y":1.64,"l":1.47,"h":1.81},{"s":"Present","t":0.732,"y":1.99,"l":1.8,"h":2.18},{"s":"Present","t":0.755,"y":2.14,"l":1.93,"h":2.35},{"s":"Present","t":0.789,"y":1.92,"l":1.73,"h":2.11},{"s":"Present","t":0.824,"y":1.49,"l":1.32,"h":1.66},{"s":"Present","t":0.87,"y":1.16,"l":1.01,"h":1.31},{"s":"Present","t":0.915,"y":0.93,"l":0.81,"h":1.05},{"s":"Present","t":0.961,"y":0.86,"l":0.74,"h":0.98},{"s":"Present","t":1.007,"y":0.76,"l":0.66,"h":0.86},{"s":"Present","t":1.053,"y":0.58,"l":0.48,"h":0.68},{"s":"Present","t":1.087,"y":0.5,"l":0.42,"h":0.58},{"s":"Present","t":1.121,"y":0.83,"l":0.71,"h":0.95},{"s":"Present","t":1.167,"y":1.39,"l":1.24,"h":1.54},{"s":"Present","t":1.213,"y":1.79,"l":1.6,"h":1.98},{"s":"Present","t":1.259,"y":2.09,"l":1.88,"h":2.3},{"s":"Present","t":1.304,"y":1.84,"l":1.65,"h":2.03},{"s":"Present","t":1.35,"y":1.34,"l":1.19,"h":1.49},{"s":"Present","t":1.396,"y":0.96,"l":0.84,"h":1.08},{"s":"Present","t":1.442,"y":0.68,"l":0.58,"h":0.78},{"s":"Present","t":1.487,"y":0.55,"l":0.45,"h":0.65},{"s":"Present","t":1.533,"y":0.48,"l":0.4,"h":0.56},{"s":"Present","t":1.579,"y":0.38,"l":0.3,"h":0.46},{"s":"Present","t":1.625,"y":0.68,"l":0.58,"h":0.78},{"s":"Present","t":1.67,"y":1.21,"l":1.06,"h":1.36},{"s":"Present","t":1.716,"y":1.64,"l":1.47,"h":1.81},{"s":"Present","t":1.762,"y":2.02,"l":1.81,"h":2.23},{"s":"Present","t":1.808,"y":1.84,"l":1.65,"h":2.03},{"s":"Present","t":1.854,"y":1.34,"l":1.19,"h":1.49},{"s":"Present","t":1.9,"y":0.78,"l":0.68,"h":0.88},{"s":"Present","t":1.945,"y":0.38,"l":0.3,"h":0.46},{"s":"Present","t":1.991,"y":0.5,"l":0.42,"h":0.58},{"s":"Present","t":2.037,"y":0.43,"l":0.35,"h":0.51},{"s":"Present","t":2.082,"y":0.38,"l":0.3,"h":0.46},{"s":"Present","t":2.117,"y":0.53,"l":0.43,"h":0.63},{"s":"Present","t":2.151,"y":0.96,"l":0.84,"h":1.08},{"s":"Present","t":2.197,"y":1.29,"l":1.14,"h":1.44},{"s":"Present","t":2.243,"y":1.51,"l":1.34,"h":1.68},{"s":"Present","t":2.277,"y":1.64,"l":1.47,"h":1.81},{"s":"Present","t":2.311,"y":1.46,"l":1.29,"h":1.63},{"s":"Present","t":2.357,"y":1.03,"l":0.91,"h":1.15},{"s":"Present","t":2.403,"y":0.63,"l":0.53,"h":0.73},{"s":"Present","t":2.437,"y":0.38,"l":0.3,"h":0.46},{"s":"Present","t":2.494,"y":0.35,"l":0.27,"h":0.43}
],
"D":[
{"s":"Absent","t":-0.5,"y":0.2,"l":0.13,"h":0.27},{"s":"Absent","t":-0.456,"y":0.18,"l":0.11,"h":0.25},{"s":"Absent","t":-0.41,"y":0.2,"l":0.13,"h":0.27},{"s":"Absent","t":-0.375,"y":0.4,"l":0.32,"h":0.48},{"s":"Absent","t":-0.34,"y":0.85,"l":0.73,"h":0.97},{"s":"Absent","t":-0.294,"y":1.3,"l":1.15,"h":1.45},{"s":"Absent","t":-0.248,"y":1.5,"l":1.33,"h":1.67},{"s":"Absent","t":-0.225,"y":1.54,"l":1.37,"h":1.71},{"s":"Absent","t":-0.19,"y":1.35,"l":1.2,"h":1.5},{"s":"Absent","t":-0.155,"y":1,"l":0.88,"h":1.12},{"s":"Absent","t":-0.109,"y":0.6,"l":0.5,"h":0.7},{"s":"Absent","t":-0.086,"y":0.35,"l":0.27,"h":0.43},{"s":"Absent","t":-0.051,"y":0.26,"l":0.19,"h":0.33},{"s":"Absent","t":-0.005,"y":0.2,"l":0.13,"h":0.27},{"s":"Absent","t":0.03,"y":0.16,"l":0.09,"h":0.23},{"s":"Absent","t":0.076,"y":0.16,"l":0.09,"h":0.23},{"s":"Absent","t":0.1,"y":0.13,"l":0.06,"h":0.2},{"s":"Absent","t":0.134,"y":0.25,"l":0.18,"h":0.32},{"s":"Absent","t":0.18,"y":0.7,"l":0.6,"h":0.8},{"s":"Absent","t":0.227,"y":1.15,"l":1,"h":1.3},{"s":"Absent","t":0.262,"y":1.4,"l":1.23,"h":1.57},{"s":"Absent","t":0.296,"y":1.5,"l":1.33,"h":1.67},{"s":"Absent","t":0.331,"y":1.3,"l":1.15,"h":1.45},{"s":"Absent","t":0.377,"y":0.85,"l":0.73,"h":0.97},{"s":"Absent","t":0.412,"y":0.5,"l":0.4,"h":0.6},{"s":"Absent","t":0.447,"y":0.4,"l":0.32,"h":0.48},{"s":"Absent","t":0.493,"y":0.4,"l":0.32,"h":0.48},{"s":"Absent","t":0.539,"y":0.33,"l":0.25,"h":0.41},{"s":"Absent","t":0.586,"y":0.2,"l":0.13,"h":0.27},{"s":"Absent","t":0.609,"y":0.19,"l":0.12,"h":0.26},{"s":"Absent","t":0.644,"y":0.6,"l":0.5,"h":0.7},{"s":"Absent","t":0.678,"y":1.05,"l":0.93,"h":1.17},{"s":"Absent","t":0.725,"y":1.35,"l":1.2,"h":1.5},{"s":"Absent","t":0.771,"y":1.64,"l":1.47,"h":1.81},{"s":"Absent","t":0.806,"y":1.48,"l":1.31,"h":1.65},{"s":"Absent","t":0.84,"y":1.05,"l":0.93,"h":1.17},{"s":"Absent","t":0.887,"y":0.6,"l":0.5,"h":0.7},{"s":"Absent","t":0.933,"y":0.35,"l":0.27,"h":0.43},{"s":"Absent","t":0.979,"y":0.25,"l":0.18,"h":0.32},{"s":"Absent","t":1.025,"y":0.16,"l":0.09,"h":0.23},{"s":"Absent","t":1.083,"y":0.13,"l":0.06,"h":0.2},{"s":"Absent","t":1.118,"y":0.2,"l":0.13,"h":0.27},{"s":"Absent","t":1.164,"y":0.85,"l":0.73,"h":0.97},{"s":"Absent","t":1.211,"y":1.4,"l":1.23,"h":1.57},{"s":"Absent","t":1.245,"y":1.48,"l":1.31,"h":1.65},{"s":"Absent","t":1.28,"y":1.63,"l":1.46,"h":1.8},{"s":"Absent","t":1.315,"y":1.3,"l":1.15,"h":1.45},{"s":"Absent","t":1.361,"y":0.85,"l":0.73,"h":0.97},{"s":"Absent","t":1.407,"y":0.43,"l":0.35,"h":0.51},{"s":"Absent","t":1.454,"y":0.2,"l":0.13,"h":0.27},{"s":"Absent","t":1.5,"y":0.2,"l":0.13,"h":0.27},{"s":"Absent","t":1.546,"y":0.18,"l":0.11,"h":0.25},{"s":"Absent","t":1.593,"y":0.18,"l":0.11,"h":0.25},{"s":"Absent","t":1.639,"y":0.6,"l":0.5,"h":0.7},{"s":"Absent","t":1.685,"y":1.1,"l":0.95,"h":1.25},{"s":"Absent","t":1.731,"y":1.43,"l":1.26,"h":1.6},{"s":"Absent","t":1.778,"y":1.56,"l":1.39,"h":1.73},{"s":"Absent","t":1.813,"y":1.43,"l":1.26,"h":1.6},{"s":"Absent","t":1.859,"y":0.98,"l":0.86,"h":1.1},{"s":"Absent","t":1.905,"y":0.53,"l":0.43,"h":0.63},{"s":"Absent","t":1.951,"y":0.25,"l":0.18,"h":0.32},{"s":"Absent","t":1.998,"y":0.23,"l":0.16,"h":0.3},{"s":"Absent","t":2.067,"y":0.18,"l":0.11,"h":0.25},{"s":"Absent","t":2.1,"y":0.15,"l":0.08,"h":0.22},{"s":"Absent","t":2.137,"y":0.6,"l":0.5,"h":0.7},{"s":"Absent","t":2.183,"y":1.05,"l":0.93,"h":1.17},{"s":"Absent","t":2.229,"y":1.4,"l":1.23,"h":1.57},{"s":"Absent","t":2.275,"y":1.51,"l":1.34,"h":1.68},{"s":"Absent","t":2.31,"y":1.38,"l":1.21,"h":1.55},{"s":"Absent","t":2.356,"y":0.9,"l":0.78,"h":1.02},{"s":"Absent","t":2.402,"y":0.5,"l":0.4,"h":0.6},{"s":"Absent","t":2.449,"y":0.25,"l":0.18,"h":0.32},{"s":"Absent","t":2.5,"y":0.2,"l":0.13,"h":0.27},
{"s":"Present","t":-0.5,"y":0.18,"l":0.11,"h":0.25},{"s":"Present","t":-0.456,"y":0.16,"l":0.09,"h":0.23},{"s":"Present","t":-0.41,"y":0.14,"l":0.07,"h":0.21},{"s":"Present","t":-0.375,"y":0.35,"l":0.27,"h":0.43},{"s":"Present","t":-0.34,"y":0.8,"l":0.68,"h":0.92},{"s":"Present","t":-0.294,"y":1,"l":0.88,"h":1.12},{"s":"Present","t":-0.248,"y":1.2,"l":1.05,"h":1.35},{"s":"Present","t":-0.22,"y":1.3,"l":1.15,"h":1.45},{"s":"Present","t":-0.19,"y":1.15,"l":1,"h":1.3},{"s":"Present","t":-0.155,"y":0.8,"l":0.68,"h":0.92},{"s":"Present","t":-0.109,"y":0.45,"l":0.37,"h":0.53},{"s":"Present","t":-0.086,"y":0.3,"l":0.22,"h":0.38},{"s":"Present","t":-0.039,"y":0.25,"l":0.18,"h":0.32},{"s":"Present","t":0.007,"y":0.23,"l":0.16,"h":0.3},{"s":"Present","t":0.053,"y":0.2,"l":0.13,"h":0.27},{"s":"Present","t":0.1,"y":0.16,"l":0.09,"h":0.23},{"s":"Present","t":0.134,"y":0.23,"l":0.16,"h":0.3},{"s":"Present","t":0.18,"y":0.65,"l":0.55,"h":0.75},{"s":"Present","t":0.227,"y":1.05,"l":0.93,"h":1.17},{"s":"Present","t":0.262,"y":1.28,"l":1.13,"h":1.43},{"s":"Present","t":0.308,"y":1.2,"l":1.05,"h":1.35},{"s":"Present","t":0.354,"y":0.85,"l":0.73,"h":0.97},{"s":"Present","t":0.4,"y":0.4,"l":0.32,"h":0.48},{"s":"Present","t":0.447,"y":0.25,"l":0.18,"h":0.32},{"s":"Present","t":0.493,"y":0.15,"l":0.08,"h":0.22},{"s":"Present","t":0.539,"y":0.13,"l":0.06,"h":0.2},{"s":"Present","t":0.574,"y":0.11,"l":0.04,"h":0.18},{"s":"Present","t":0.609,"y":0.2,"l":0.13,"h":0.27},{"s":"Present","t":0.644,"y":0.85,"l":0.73,"h":0.97},{"s":"Present","t":0.678,"y":1.4,"l":1.23,"h":1.57},{"s":"Present","t":0.725,"y":1.95,"l":1.76,"h":2.14},{"s":"Present","t":0.771,"y":2.23,"l":2.02,"h":2.44},{"s":"Present","t":0.806,"y":2,"l":1.81,"h":2.19},{"s":"Present","t":0.84,"y":1.55,"l":1.38,"h":1.72},{"s":"Present","t":0.887,"y":1.05,"l":0.93,"h":1.17},{"s":"Present","t":0.933,"y":0.85,"l":0.73,"h":0.97},{"s":"Present","t":0.979,"y":0.8,"l":0.68,"h":0.92},{"s":"Present","t":1.025,"y":0.65,"l":0.55,"h":0.75},{"s":"Present","t":1.072,"y":0.48,"l":0.4,"h":0.56},{"s":"Present","t":1.106,"y":0.43,"l":0.35,"h":0.51},{"s":"Present","t":1.153,"y":0.8,"l":0.68,"h":0.92},{"s":"Present","t":1.199,"y":1.35,"l":1.2,"h":1.5},{"s":"Present","t":1.245,"y":1.8,"l":1.61,"h":1.99},{"s":"Present","t":1.28,"y":1.88,"l":1.69,"h":2.07},{"s":"Present","t":1.315,"y":1.65,"l":1.48,"h":1.82},{"s":"Present","t":1.361,"y":1.2,"l":1.05,"h":1.35},{"s":"Present","t":1.407,"y":0.85,"l":0.73,"h":0.97},{"s":"Present","t":1.454,"y":0.65,"l":0.55,"h":0.75},{"s":"Present","t":1.5,"y":0.55,"l":0.45,"h":0.65},{"s":"Present","t":1.546,"y":0.43,"l":0.35,"h":0.51},{"s":"Present","t":1.604,"y":0.33,"l":0.25,"h":0.41},{"s":"Present","t":1.65,"y":0.75,"l":0.65,"h":0.85},{"s":"Present","t":1.697,"y":1.25,"l":1.1,"h":1.4},{"s":"Present","t":1.743,"y":1.65,"l":1.48,"h":1.82},{"s":"Present","t":1.778,"y":1.76,"l":1.57,"h":1.95},{"s":"Present","t":1.824,"y":1.53,"l":1.36,"h":1.7},{"s":"Present","t":1.87,"y":1.03,"l":0.91,"h":1.15},{"s":"Present","t":1.917,"y":0.65,"l":0.55,"h":0.75},{"s":"Present","t":1.963,"y":0.45,"l":0.37,"h":0.53},{"s":"Present","t":2.009,"y":0.4,"l":0.32,"h":0.48},{"s":"Present","t":2.067,"y":0.33,"l":0.25,"h":0.41},{"s":"Present","t":2.113,"y":0.3,"l":0.22,"h":0.38},{"s":"Present","t":2.148,"y":0.7,"l":0.6,"h":0.8},{"s":"Present","t":2.194,"y":1.2,"l":1.05,"h":1.35},{"s":"Present","t":2.24,"y":1.53,"l":1.36,"h":1.7},{"s":"Present","t":2.275,"y":1.64,"l":1.47,"h":1.81},{"s":"Present","t":2.31,"y":1.5,"l":1.33,"h":1.67},{"s":"Present","t":2.356,"y":1,"l":0.88,"h":1.12},{"s":"Present","t":2.402,"y":0.55,"l":0.45,"h":0.65},{"s":"Present","t":2.449,"y":0.35,"l":0.27,"h":0.43},{"s":"Present","t":2.5,"y":0.3,"l":0.22,"h":0.38}
],
"arrB":[{"x1":0.05,"x2":0.15,"y":1.72,"k":"f"},{"x1":0.05,"x2":0.15,"y":1.19,"k":"f"}],
"arrC":[{"x1":-0.07,"x2":0.126,"y":1.73,"k":"f"},{"x1":-0.07,"x2":0.126,"y":1.11,"k":"f"},{"x1":0.423,"x2":0.622,"y":2.12,"k":"o"},{"x1":0.4,"x2":0.606,"y":1.5,"k":"o"}],
"arrD":[{"x1":-0.028,"x2":0.169,"y":1.36,"k":"f"},{"x1":0.428,"x2":0.632,"y":2.16,"k":"o"},{"x1":0.405,"x2":0.609,"y":1.54,"k":"o"}]
},
"concat":[
{
"width":436,"height":320,
"title":{"text":"a","anchor":"start","frame":"bounds","fontSize":26,"fontWeight":"bold","baseline":"alphabetic","offset":-44,"dx":2,"color":"#000"},
"data":{"name":"A"},
"encoding":{"x":{"field":"t","type":"quantitative","scale":{"domain":[-1,6.05],"nice":false,"zero":false},"axis":{"title":"Time relative to stimulus onset, s","values":[-1,0,1,2,3,4,5,6],"format":"~g"}}},
"layer":[
{"transform":[{"filter":"datum.s=='Color'"}],"mark":{"type":"area","opacity":1,"clip":true},"encoding":{"y":{"field":"l","type":"quantitative","scale":{"domain":[0,2],"nice":false},"axis":{"title":"Microsaccade rate, Hz","values":[0,0.2,0.4,0.6,0.8,1,1.2,1.4,1.6,1.8,2],"format":"~g","labelExpr":"indexof(['0','0.4','0.8','1.2','1.6','2'], datum.label) >= 0 ? datum.label : ''","labelFlush":true}},"y2":{"field":"h"},"fill":{"field":"s","type":"nominal","scale":{"domain":["Color","Letter"],"range":["#e3e3e3","#b0b0b0"]},"legend":{"title":null,"orient":"none","legendX":17,"legendY":273,"symbolType":"M-1,-0.46H1V0.46H-1Z","symbolSize":676,"symbolStrokeWidth":0,"symbolOpacity":1,"labelFontSize":13,"labelOffset":4,"rowPadding":-6,"padding":0,"labelColor":"#222"}}}},
{"transform":[{"filter":"datum.s=='Letter'"}],"mark":{"type":"area","opacity":1,"clip":true},"encoding":{"y":{"field":"l","type":"quantitative","scale":{"domain":[0,2],"nice":false},"axis":{"title":"Microsaccade rate, Hz","values":[0,0.2,0.4,0.6,0.8,1,1.2,1.4,1.6,1.8,2],"format":"~g","labelExpr":"indexof(['0','0.4','0.8','1.2','1.6','2'], datum.label) >= 0 ? datum.label : ''","labelFlush":true}},"y2":{"field":"h"},"fill":{"field":"s","type":"nominal","scale":{"domain":["Color","Letter"],"range":["#e3e3e3","#b0b0b0"]}}}},
{"mark":{"type":"line","clip":true,"strokeWidth":1.5},"encoding":{"y":{"field":"y","type":"quantitative","scale":{"domain":[0,2],"nice":false},"axis":{"title":"Microsaccade rate, Hz","values":[0,0.2,0.4,0.6,0.8,1,1.2,1.4,1.6,1.8,2],"format":"~g","labelExpr":"indexof(['0','0.4','0.8','1.2','1.6','2'], datum.label) >= 0 ? datum.label : ''","labelFlush":true}},"stroke":{"field":"s","type":"nominal","scale":{"range":["#8a8a8a","#383838"]},"legend":{"title":null,"orient":"none","legendX":17,"legendY":273,"symbolType":"stroke","symbolSize":676,"symbolStrokeWidth":1.5,"labelExpr":"''","labelFontSize":13,"labelOffset":4,"rowPadding":-6,"padding":0}},"strokeDash":{"field":"s","type":"nominal","scale":{"range":[[2,2],[1,0]]},"legend":{"title":null,"orient":"none","legendX":17,"legendY":273,"symbolType":"stroke","symbolSize":676,"symbolStrokeWidth":1.5,"labelExpr":"''","labelFontSize":13,"labelOffset":4,"rowPadding":-6,"padding":0}}}}
]
},
{
"width":436,"height":320,
"title":{"text":"b","anchor":"start","frame":"bounds","fontSize":26,"fontWeight":"bold","baseline":"alphabetic","offset":-47,"dx":8,"color":"#000"},
"data":{"name":"B"},
"encoding":{"x":{"field":"t","type":"quantitative","scale":{"domain":[-0.5,1.02],"nice":false,"zero":false},"axis":{"title":"Time relative to color item onset, s","values":[-0.5,0,0.5,1],"format":"~g"}}},
"layer":[
{"transform":[{"filter":"datum.s=='Present'"}],"mark":{"type":"area","opacity":1,"clip":true},"encoding":{"y":{"field":"l","type":"quantitative","scale":{"domain":[0,2.1],"nice":false},"axis":{"title":"Microsaccade rate, Hz","values":[0,0.4,0.8,1.2,1.6,2],"format":"~g"}},"y2":{"field":"h"},"fill":{"field":"s","type":"nominal","scale":{"domain":["Present","Absent"],"range":["#e4e4e4","#b8b8b8"]},"legend":{"title":null,"orient":"none","legendX":259,"legendY":12,"symbolType":"M-0.714,-1H0.714V1H-0.714Z","symbolSize":784,"symbolStrokeWidth":0,"symbolOpacity":1,"labelFontSize":13,"labelOffset":13,"rowPadding":8,"padding":0,"labelColor":"#222"}}}},
{"transform":[{"filter":"datum.s=='Absent'"}],"mark":{"type":"area","opacity":1,"clip":true},"encoding":{"y":{"field":"l","type":"quantitative","scale":{"domain":[0,2.1],"nice":false},"axis":{"title":"Microsaccade rate, Hz","values":[0,0.4,0.8,1.2,1.6,2],"format":"~g"}},"y2":{"field":"h"},"fill":{"field":"s","type":"nominal","scale":{"domain":["Present","Absent"],"range":["#e4e4e4","#b8b8b8"]}}}},
{"mark":{"type":"rule","strokeDash":[9,6],"color":"#555","strokeWidth":1},"encoding":{"x":{"datum":0,"type":"quantitative","axis":{"title":"Time relative to color item onset, s","values":[-0.5,0,0.5,1],"format":"~g"}}}},
{"mark":{"type":"line","clip":true,"strokeWidth":1.6,"color":"#111"},"encoding":{"y":{"field":"y","type":"quantitative","scale":{"domain":[0,2.1],"nice":false},"axis":{"title":"Microsaccade rate, Hz","values":[0,0.4,0.8,1.2,1.6,2],"format":"~g"}},"strokeDash":{"field":"s","type":"nominal","sort":"descending","scale":{"range":[[4,3],[1,0]]},"legend":{"title":null,"orient":"none","legendX":263,"legendY":16,"symbolType":"stroke","symbolSize":400,"symbolStrokeWidth":1.6,"symbolStrokeColor":"#111","labelExpr":"''","labelFontSize":13,"rowPadding":16,"padding":0}}}},
{"data":{"name":"arrB"},"mark":{"type":"rule","color":"#222","strokeWidth":1.2},"encoding":{"x":{"field":"x1","type":"quantitative","scale":{"domain":[-0.5,1.02]},"axis":{"title":"Time relative to color item onset, s","values":[-0.5,0,0.5,1],"format":"~g"}},"x2":{"field":"x2"},"y":{"field":"y","type":"quantitative","scale":{"domain":[0,2.1]},"axis":{"title":"Microsaccade rate, Hz","values":[0,0.4,0.8,1.2,1.6,2],"format":"~g"}}}},
{"data":{"name":"arrB"},"mark":{"type":"point","shape":"M0,0L-2,-0.67L-1.4,0L-2,0.67Z","filled":true,"fill":"#111","opacity":1,"size":225,"strokeWidth":0},"encoding":{"x":{"field":"x2","type":"quantitative","scale":{"domain":[-0.5,1.02]},"axis":{"title":"Time relative to color item onset, s","values":[-0.5,0,0.5,1],"format":"~g"}},"y":{"field":"y","type":"quantitative","scale":{"domain":[0,2.1]},"axis":{"title":"Microsaccade rate, Hz","values":[0,0.4,0.8,1.2,1.6,2],"format":"~g"}}}}
]
},
{
"width":436,"height":320,
"title":{"text":"c","anchor":"start","frame":"bounds","fontSize":26,"fontWeight":"bold","baseline":"alphabetic","offset":-27,"dx":4,"color":"#000"},
"data":{"name":"C"},
"encoding":{"x":{"field":"t","type":"quantitative","scale":{"domain":[-0.5,2.5],"nice":false,"zero":false},"axis":{"title":"Time relative to target onset, s","values":[-0.5,0,0.5,1,1.5,2,2.5],"format":"~g"}}},
"layer":[
{"transform":[{"filter":"datum.s=='Present'"}],"mark":{"type":"area","opacity":1,"clip":true},"encoding":{"y":{"field":"l","type":"quantitative","scale":{"domain":[0,2.4],"nice":false},"axis":{"title":"Microsaccade rate, Hz","values":[0,0.5,1,1.5,2],"format":"~g"}},"y2":{"field":"h"},"fill":{"field":"s","type":"nominal","scale":{"domain":["Present","Absent"],"range":["#e4e4e4","#b8b8b8"]},"legend":{"title":null,"orient":"none","legendX":345,"legendY":8,"symbolType":"M-0.733,-1H0.733V1H-0.733Z","symbolSize":900,"symbolStrokeWidth":0,"symbolOpacity":1,"labelFontSize":13,"labelOffset":11,"rowPadding":8,"padding":0,"labelColor":"#222"}}}},
{"transform":[{"filter":"datum.s=='Absent'"}],"mark":{"type":"area","opacity":1,"clip":true},"encoding":{"y":{"field":"l","type":"quantitative","scale":{"domain":[0,2.4],"nice":false},"axis":{"title":"Microsaccade rate, Hz","values":[0,0.5,1,1.5,2],"format":"~g"}},"y2":{"field":"h"},"fill":{"field":"s","type":"nominal","scale":{"domain":["Present","Absent"],"range":["#e4e4e4","#b8b8b8"]}}}},
{"mark":{"type":"rule","strokeDash":[9,6],"color":"#555","strokeWidth":1},"encoding":{"x":{"datum":0,"type":"quantitative","axis":{"title":"Time relative to target onset, s","values":[-0.5,0,0.5,1,1.5,2,2.5],"format":"~g"}}}},
{"mark":{"type":"line","clip":true,"strokeWidth":1.6,"color":"#111"},"encoding":{"y":{"field":"y","type":"quantitative","scale":{"domain":[0,2.4],"nice":false},"axis":{"title":"Microsaccade rate, Hz","values":[0,0.5,1,1.5,2],"format":"~g"}},"strokeDash":{"field":"s","type":"nominal","sort":"descending","scale":{"range":[[4,3],[1,0]]},"legend":{"title":null,"orient":"none","legendX":349,"legendY":12,"symbolType":"stroke","symbolSize":484,"symbolStrokeWidth":1.6,"symbolStrokeColor":"#111","labelExpr":"''","labelFontSize":13,"rowPadding":16,"padding":0}}}},
{"data":{"name":"arrC"},"mark":{"type":"rule","color":"#333","strokeWidth":1.2},"encoding":{"x":{"field":"x1","type":"quantitative","scale":{"domain":[-0.5,2.5]},"axis":{"title":"Time relative to target onset, s","values":[-0.5,0,0.5,1,1.5,2,2.5],"format":"~g"}},"x2":{"field":"x2"},"y":{"field":"y","type":"quantitative","scale":{"domain":[0,2.4]},"axis":{"title":"Microsaccade rate, Hz","values":[0,0.5,1,1.5,2],"format":"~g"}}}},
{"data":{"name":"arrC"},"transform":[{"filter":"datum.k=='f'"}],"mark":{"type":"point","shape":"M0,0L-2,-0.67L-1.4,0L-2,0.67Z","filled":true,"fill":"#111","opacity":1,"size":225,"strokeWidth":0},"encoding":{"x":{"field":"x2","type":"quantitative","scale":{"domain":[-0.5,2.5]},"axis":{"title":"Time relative to target onset, s","values":[-0.5,0,0.5,1,1.5,2,2.5],"format":"~g"}},"y":{"field":"y","type":"quantitative","scale":{"domain":[0,2.4]},"axis":{"title":"Microsaccade rate, Hz","values":[0,0.5,1,1.5,2],"format":"~g"}}}},
{"data":{"name":"arrC"},"transform":[{"filter":"datum.k=='o'"}],"mark":{"type":"point","shape":"M0,0L-2,-0.67L-1.4,0L-2,0.67Z","filled":true,"fill":"#ffffff","stroke":"#555","strokeWidth":1.1,"opacity":1,"size":225},"encoding":{"x":{"field":"x2","type":"quantitative","scale":{"domain":[-0.5,2.5]},"axis":{"title":"Time relative to target onset, s","values":[-0.5,0,0.5,1,1.5,2,2.5],"format":"~g"}},"y":{"field":"y","type":"quantitative","scale":{"domain":[0,2.4]},"axis":{"title":"Microsaccade rate, Hz","values":[0,0.5,1,1.5,2],"format":"~g"}}}}
]
},
{
"width":436,"height":320,
"title":{"text":"d","anchor":"start","frame":"bounds","fontSize":26,"fontWeight":"bold","baseline":"alphabetic","offset":-37,"dx":8,"color":"#000"},
"data":{"name":"D"},
"encoding":{"x":{"field":"t","type":"quantitative","scale":{"domain":[-0.5,2.5],"nice":false,"zero":false},"axis":{"title":"Time relative to target onset, s","values":[-0.5,0,0.5,1,1.5,2,2.5],"format":"~g"}}},
"layer":[
{"transform":[{"filter":"datum.s=='Present'"}],"mark":{"type":"area","opacity":1,"clip":true},"encoding":{"y":{"field":"l","type":"quantitative","scale":{"domain":[0,2.4],"nice":false},"axis":{"title":"Microsaccade rate, Hz","values":[0,0.5,1,1.5,2],"format":"~g"}},"y2":{"field":"h"},"fill":{"field":"s","type":"nominal","scale":{"domain":["Present","Absent"],"range":["#e4e4e4","#b8b8b8"]},"legend":{"title":null,"orient":"none","legendX":342,"legendY":8,"symbolType":"M-0.733,-1H0.733V1H-0.733Z","symbolSize":900,"symbolStrokeWidth":0,"symbolOpacity":1,"labelFontSize":13,"labelOffset":11,"rowPadding":8,"padding":0,"labelColor":"#222"}}}},
{"transform":[{"filter":"datum.s=='Absent'"}],"mark":{"type":"area","opacity":1,"clip":true},"encoding":{"y":{"field":"l","type":"quantitative","scale":{"domain":[0,2.4],"nice":false},"axis":{"title":"Microsaccade rate, Hz","values":[0,0.5,1,1.5,2],"format":"~g"}},"y2":{"field":"h"},"fill":{"field":"s","type":"nominal","scale":{"domain":["Present","Absent"],"range":["#e4e4e4","#b8b8b8"]}}}},
{"mark":{"type":"rule","strokeDash":[9,6],"color":"#555","strokeWidth":1},"encoding":{"x":{"datum":0,"type":"quantitative","axis":{"title":"Time relative to target onset, s","values":[-0.5,0,0.5,1,1.5,2,2.5],"format":"~g"}}}},
{"mark":{"type":"line","clip":true,"strokeWidth":1.6,"color":"#111"},"encoding":{"y":{"field":"y","type":"quantitative","scale":{"domain":[0,2.4],"nice":false},"axis":{"title":"Microsaccade rate, Hz","values":[0,0.5,1,1.5,2],"format":"~g"}},"strokeDash":{"field":"s","type":"nominal","sort":"descending","scale":{"range":[[4,3],[1,0]]},"legend":{"title":null,"orient":"none","legendX":346,"legendY":12,"symbolType":"stroke","symbolSize":484,"symbolStrokeWidth":1.6,"symbolStrokeColor":"#111","labelExpr":"''","labelFontSize":13,"rowPadding":16,"padding":0}}}},
{"data":{"name":"arrD"},"mark":{"type":"rule","color":"#333","strokeWidth":1.2},"encoding":{"x":{"field":"x1","type":"quantitative","scale":{"domain":[-0.5,2.5]},"axis":{"title":"Time relative to target onset, s","values":[-0.5,0,0.5,1,1.5,2,2.5],"format":"~g"}},"x2":{"field":"x2"},"y":{"field":"y","type":"quantitative","scale":{"domain":[0,2.4]},"axis":{"title":"Microsaccade rate, Hz","values":[0,0.5,1,1.5,2],"format":"~g"}}}},
{"data":{"name":"arrD"},"transform":[{"filter":"datum.k=='f'"}],"mark":{"type":"point","shape":"M0,0L-2,-0.67L-1.4,0L-2,0.67Z","filled":true,"fill":"#111","opacity":1,"size":225,"strokeWidth":0},"encoding":{"x":{"field":"x2","type":"quantitative","scale":{"domain":[-0.5,2.5]},"axis":{"title":"Time relative to target onset, s","values":[-0.5,0,0.5,1,1.5,2,2.5],"format":"~g"}},"y":{"field":"y","type":"quantitative","scale":{"domain":[0,2.4]},"axis":{"title":"Microsaccade rate, Hz","values":[0,0.5,1,1.5,2],"format":"~g"}}}},
{"data":{"name":"arrD"},"transform":[{"filter":"datum.k=='o'"}],"mark":{"type":"point","shape":"M0,0L-2,-0.67L-1.4,0L-2,0.67Z","filled":true,"fill":"#ffffff","stroke":"#555","strokeWidth":1.1,"opacity":1,"size":225},"encoding":{"x":{"field":"x2","type":"quantitative","scale":{"domain":[-0.5,2.5]},"axis":{"title":"Time relative to target onset, s","values":[-0.5,0,0.5,1,1.5,2,2.5],"format":"~g"}},"y":{"field":"y","type":"quantitative","scale":{"domain":[0,2.4]},"axis":{"title":"Microsaccade rate, Hz","values":[0,0.5,1,1.5,2],"format":"~g"}}}}
]
}
],
"config":{
"font":"Liberation Sans",
"background":"white",
"view":{"stroke":"#7a7a7a","strokeWidth":1},
"axis":{"domain":false,"grid":false,"ticks":true,"tickSize":-5,"tickColor":"#555","labelFont":"Liberation Sans","labelFontSize":14,"labelColor":"#222","titleFont":"Liberation Sans","titleFontSize":22,"titleFontWeight":"normal","titleColor":"#111"},
"axisX":{"labelPadding":15,"titlePadding":10,"labelFlush":true},
"axisY":{"labelPadding":13,"titlePadding":14,"titleFontSize":24},
"legend":{"labelFont":"Liberation Sans"},
"title":{"font":"Liberation Sans"}
}
}
